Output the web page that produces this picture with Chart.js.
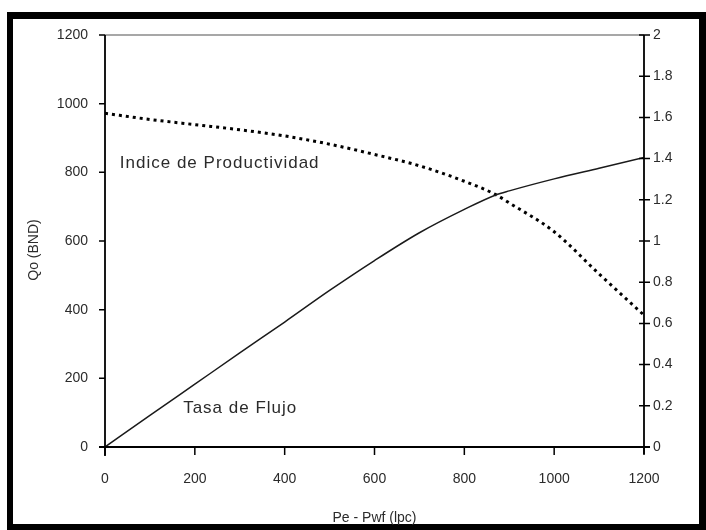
<!DOCTYPE html>
<html>
<head>
<meta charset="utf-8">
<script src="https://cdn.jsdelivr.net/npm/chart.js@4.4.1/dist/chart.umd.min.js"></script>
<style>
  html, body { margin: 0; padding: 0; background: #ffffff; }
  #wrap { position: relative; width: 706px; height: 530px; overflow: hidden; }
  #frame { position: absolute; left: 7px; top: 12px; width: 686px; height: 505px;
           border-style: solid; border-color: #000; border-width: 7px 7px 6px 6px; background: #fff; }
  #c { position: absolute; left: 0; top: 0; }
</style>
</head>
<body>
<div id="wrap">
  <div id="frame"></div>
  <canvas id="c" width="706" height="530"></canvas>
</div>
<script>
// Caída de presión Pe - Pwf (lpc)
const pressureDrop = [0, 100, 200, 300, 400, 500, 600, 700, 800, 870, 900, 1000, 1100, 1200];
// Tasa de flujo Qo (BND)
const flowRate = [0, 92, 183, 274, 364, 456, 543, 624, 692, 734, 746, 781, 812, 843];
// Índice de productividad (eje derecho)
const productivityIndex = [1.62, 1.59, 1.565, 1.54, 1.51, 1.47, 1.42, 1.365, 1.29, 1.225, 1.185, 1.045, 0.84, 0.64];

const xTicks = [0, 200, 400, 600, 800, 1000, 1200];
const qoTicks = [0, 200, 400, 600, 800, 1000, 1200];
const ipTicks = [0, 0.2, 0.4, 0.6, 0.8, 1, 1.2, 1.4, 1.6, 1.8, 2];

const toPoints = (xs, ys) => xs.map((x, i) => ({ x: x, y: ys[i] }));
const plain = v => String(Math.round(v * 10) / 10);

const FONT = 'Liberation Sans, Arial, sans-serif';
const TEXT = '#2b2b2b';

// Marcas de escala, línea gris superior, títulos de ejes y rótulos de curvas
const decorations = {
  id: 'decorations',
  afterDraw(chart) {
    const { ctx, chartArea: a, scales } = chart;
    const x = scales.x, yl = scales.yQo, yr = scales.yIp;
    ctx.save();
    // línea superior gris
    ctx.strokeStyle = '#8a8a8a';
    ctx.lineWidth = 1.5;
    ctx.beginPath();
    ctx.moveTo(a.left, a.top); ctx.lineTo(a.right, a.top);
    ctx.stroke();
    // ejes
    ctx.strokeStyle = '#000';
    ctx.lineWidth = 1.8;
    ctx.beginPath();
    ctx.moveTo(a.left, a.top); ctx.lineTo(a.left, a.bottom + 9);
    ctx.moveTo(a.right, a.top); ctx.lineTo(a.right, a.bottom + 7);
    ctx.moveTo(a.left - 6, a.bottom); ctx.lineTo(a.right + 6, a.bottom);
    ctx.stroke();
    // marcas
    ctx.lineWidth = 1.5;
    ctx.beginPath();
    qoTicks.forEach(v => { const p = yl.getPixelForValue(v); ctx.moveTo(a.left - 6, p); ctx.lineTo(a.left, p); });
    ipTicks.forEach(v => { const p = yr.getPixelForValue(v); ctx.moveTo(a.right - 5, p); ctx.lineTo(a.right + 6, p); });
    xTicks.forEach(v => { const p = x.getPixelForValue(v); ctx.moveTo(p, a.bottom); ctx.lineTo(p, a.bottom + 8); });
    ctx.stroke();
    // títulos de ejes
    ctx.fillStyle = TEXT;
    ctx.font = '14px ' + FONT;
    ctx.textAlign = 'center';
    ctx.textBaseline = 'middle';
    ctx.fillText('Pe - Pwf (lpc)', (a.left + a.right) / 2, 518);
    ctx.save();
    ctx.translate(34, 250);
    ctx.rotate(-Math.PI / 2);
    ctx.fillText('Qo (BND)', 0, 0);
    ctx.restore();
    // rótulos de curvas
    ctx.font = '17px ' + FONT;
    ctx.letterSpacing = '1px';
    ctx.textAlign = 'left';
    ctx.fillText('Indice de Productividad', x.getPixelForValue(33), yl.getPixelForValue(827));
    ctx.fillText('Tasa de Flujo', x.getPixelForValue(174), yl.getPixelForValue(114));
    ctx.restore();
  }
};

new Chart(document.getElementById('c'), {
  type: 'line',
  data: {
    datasets: [
      {
        label: 'Tasa de Flujo',
        data: toPoints(pressureDrop, flowRate),
        yAxisID: 'yQo',
        borderColor: '#1a1a1a',
        borderWidth: 1.5,
        pointRadius: 0,
        cubicInterpolationMode: 'monotone',
        fill: false
      },
      {
        label: 'Indice de Productividad',
        data: toPoints(pressureDrop, productivityIndex),
        yAxisID: 'yIp',
        borderColor: '#000',
        borderWidth: 3,
        borderDash: [3, 4],
        borderCapStyle: 'butt',
        pointRadius: 0,
        cubicInterpolationMode: 'monotone',
        fill: false
      }
    ]
  },
  plugins: [decorations],
  options: {
    responsive: false,
    animation: false,
    devicePixelRatio: 1,
    layout: { padding: { top: 35, left: 0, right: 0, bottom: 0 } },
    plugins: { legend: { display: false }, tooltip: { enabled: false } },
    scales: {
      x: {
        type: 'linear',
        min: 0, max: 1200,
        afterBuildTicks: s => { s.ticks = xTicks.map(v => ({ value: v })); },
        afterFit: s => { s.height = 83; },
        grid: { display: false, drawTicks: false },
        border: { display: false },
        ticks: { padding: 24, color: TEXT, font: { family: FONT, size: 14 }, maxRotation: 0, callback: plain }
      },
      yQo: {
        type: 'linear',
        position: 'left',
        min: 0, max: 1200,
        afterBuildTicks: s => { s.ticks = qoTicks.map(v => ({ value: v })); },
        afterFit: s => { s.width = 105; },
        grid: { display: false, drawTicks: false },
        border: { display: false },
        ticks: { padding: 17, color: TEXT, font: { family: FONT, size: 14 }, callback: plain }
      },
      yIp: {
        type: 'linear',
        position: 'right',
        min: 0, max: 2,
        afterBuildTicks: s => { s.ticks = ipTicks.map(v => ({ value: v })); },
        afterFit: s => { s.width = 62; },
        grid: { display: false, drawTicks: false },
        border: { display: false },
        ticks: { padding: 9, color: TEXT, font: { family: FONT, size: 14 }, callback: plain }
      }
    }
  }
});
</script>
</body>
</html>
